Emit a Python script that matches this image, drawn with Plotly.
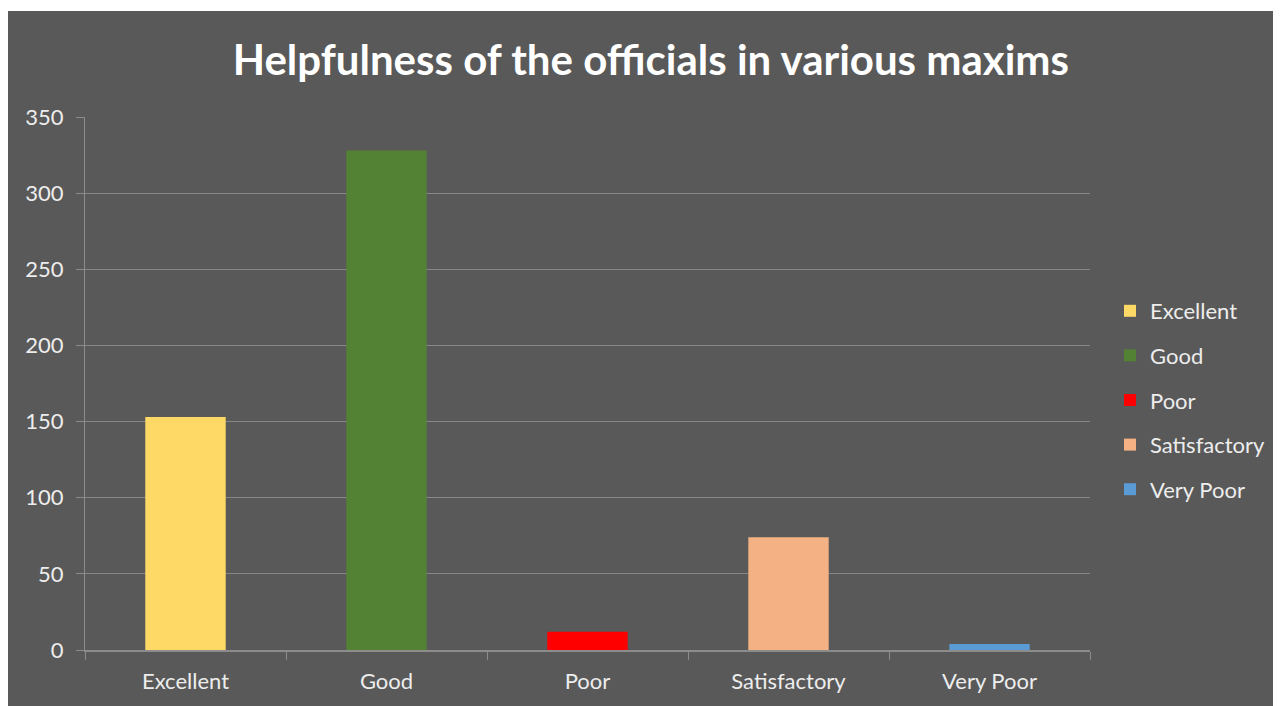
import plotly.graph_objects as go

categories = ["Excellent", "Good", "Poor", "Satisfactory", "Very Poor"]
values = [153, 328, 12, 74, 4]
colors = ["#FFD966", "#548235", "#FF0000", "#F4B183", "#5B9BD5"]
y_ticks = [0, 50, 100, 150, 200, 250, 300, 350]

BG = "#595959"
W, H = 1273, 698
L, R, T, B = 77, 191, 109, 56
PW, PH = W - L - R, H - T - B

fig = go.Figure()
for i, (c, v, col) in enumerate(zip(categories, values, colors)):
    fig.add_trace(go.Bar(x=[c], y=[v], name=c, marker=dict(color=col, line=dict(width=0)),
                         width=0.4, legendgroup=c))

fig.update_layout(
    width=W, height=H,
    margin=dict(l=L, r=R, t=T, b=B),
    paper_bgcolor="white",
    plot_bgcolor="rgba(0,0,0,0)",
    barmode="overlay",
    title=dict(text="<b>Helpfulness of the officials in various maxims</b>",
               font=dict(family="Lato", size=42, color="white"),
               x=0.505, xanchor="center", y=0.9255, yanchor="middle"),
    font=dict(family="Lato", color="#E8E8E8", size=22),
    legend=dict(xref="container", x=1102 / W, xanchor="left",
                yref="container", y=(H - (400 - 8)) / H, yanchor="middle",
                font=dict(size=22, color="#EDEDED"), tracegroupgap=13,
                traceorder="grouped", itemwidth=30, bgcolor="rgba(0,0,0,0)"),
    showlegend=True,
    shapes=[dict(type="rect", xref="paper", yref="paper", layer="below",
                 x0=-(L + 5) / PW, x1=(W - L + 20) / PW,
                 y0=-(B + 20) / PH, y1=(PH + T - 3) / PH,
                 fillcolor=BG, line=dict(width=0))],
)
fig.update_xaxes(type="category", categoryorder="array", categoryarray=categories,
                 showline=True, linecolor="#8C8C8C", linewidth=2,
                 ticks="outside", tickson="boundaries", ticklen=8, tickcolor="#8C8C8C",
                 ticklabelstandoff=11,
                 tickfont=dict(size=22, color="#EDEDED"), showgrid=False, range=[-0.5, 4.5])
fig.update_yaxes(range=[0, 350], tickvals=y_ticks, showline=True, linecolor="#8C8C8C", linewidth=1,
                 ticks="outside", ticklen=8, tickcolor="#8C8C8C", ticklabelstandoff=8,
                 gridcolor="#868686", gridwidth=1, zeroline=False,
                 tickfont=dict(size=22, color="#EDEDED"))

fig.write_html("out.html")
